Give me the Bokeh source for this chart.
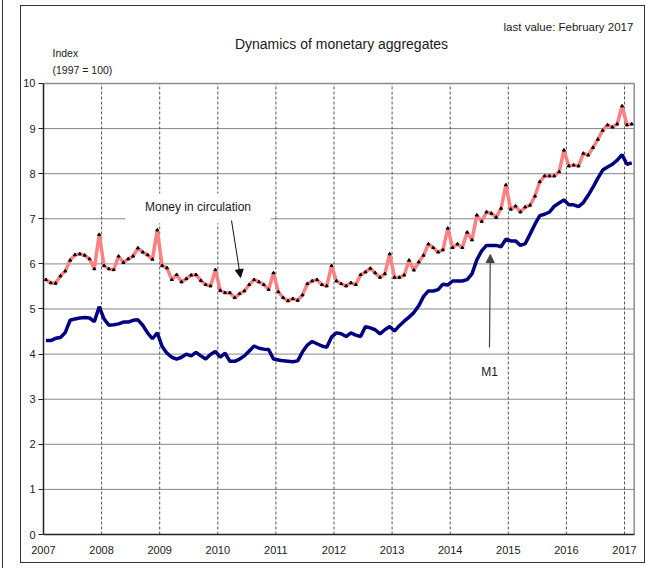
from bokeh.plotting import figure
from bokeh.models import (Range1d, FixedTicker, Label, Arrow, NormalHead,
                          BoxAnnotation, InlineStyleSheet)
from bokeh.embed import file_html
from bokeh.resources import INLINE

# ---------------- data (monthly, Jan 2007 - Feb 2017) ----------------
start_year = 2007
money_in_circulation = [
    5.65, 5.58, 5.57, 5.73, 5.84, 6.08, 6.20, 6.22, 6.19, 6.11, 5.89, 6.65,
    5.96, 5.89, 5.87, 6.17, 6.03, 6.11, 6.17, 6.35, 6.26, 6.20, 6.10, 6.75,
    5.96, 5.91, 5.65, 5.76, 5.60, 5.67, 5.75, 5.76, 5.63, 5.54, 5.51, 5.87,
    5.41, 5.36, 5.36, 5.25, 5.34, 5.40, 5.54, 5.65, 5.60, 5.54, 5.43, 5.80,
    5.38, 5.25, 5.18, 5.23, 5.19, 5.31, 5.56, 5.62, 5.65, 5.54, 5.51, 5.96,
    5.62, 5.56, 5.51, 5.58, 5.54, 5.76, 5.82, 5.90, 5.80, 5.70, 5.78, 6.22,
    5.70, 5.70, 5.75, 6.08, 5.86, 6.04, 6.19, 6.44, 6.36, 6.26, 6.31, 6.79,
    6.36, 6.44, 6.36, 6.70, 6.53, 7.08, 6.94, 7.15, 7.12, 7.03, 7.23, 7.75,
    7.21, 7.28, 7.15, 7.26, 7.30, 7.50, 7.82, 7.95, 7.95, 7.95, 8.04, 8.52,
    8.17, 8.19, 8.17, 8.45, 8.41, 8.58, 8.76, 8.96, 9.08, 9.03, 9.10, 9.50,
    9.08, 9.10,
]
m1 = [
    4.30, 4.30, 4.35, 4.37, 4.48, 4.75, 4.78, 4.80, 4.81, 4.80, 4.72, 5.05,
    4.78, 4.64, 4.65, 4.67, 4.71, 4.71, 4.75, 4.76, 4.64, 4.47, 4.34, 4.47,
    4.17, 4.02, 3.93, 3.89, 3.93, 4.00, 3.96, 4.04, 3.96, 3.89, 3.99, 4.06,
    3.93, 4.02, 3.84, 3.84, 3.89, 3.96, 4.07, 4.18, 4.13, 4.11, 4.10, 3.89,
    3.87, 3.85, 3.84, 3.83, 3.85, 4.05, 4.20, 4.28, 4.23, 4.18, 4.15, 4.38,
    4.47, 4.45, 4.39, 4.47, 4.42, 4.39, 4.61, 4.58, 4.54, 4.45, 4.54, 4.61,
    4.51, 4.63, 4.73, 4.82, 4.92, 5.07, 5.28, 5.40, 5.40, 5.43, 5.55, 5.53,
    5.62, 5.62, 5.62, 5.65, 5.78, 6.09, 6.29, 6.41, 6.41, 6.41, 6.38, 6.55,
    6.51, 6.51, 6.41, 6.45, 6.66, 6.88, 7.07, 7.10, 7.15, 7.28, 7.35, 7.42,
    7.31, 7.31, 7.27, 7.36, 7.52, 7.70, 7.90, 8.08, 8.15, 8.21, 8.30, 8.42,
    8.21, 8.24,
]
year_ticks = list(range(2007, 2018))
y_ticks = list(range(0, 11))

n_months = len(m1)
x = [start_year + (i + 0.5) / 12 for i in range(n_months)]
x_end = start_year + n_months / 12          # right edge of the category axis

FONT = "Liberation Sans, Arial, sans-serif"
TXT = "#1a1a1a"

p = figure(width=648, height=568, output_backend="svg", toolbar_location=None,
           x_range=Range1d(2007, 2017.413), y_range=Range1d(0, 11.84),
           min_border_left=43, min_border_right=0, min_border_top=0,
           min_border_bottom=34)
p.background_fill_color = "white"
p.border_fill_color = "white"
p.outline_line_color = None
p.xgrid.visible = False
p.ygrid.visible = False

# outer frame of the chart (page decoration)
p.stylesheets = [InlineStyleSheet(css="""
:host::before { content: ""; position: absolute; left: 2px; top: 0px;
  width: 0px; height: 568px; border-left: 1.5px solid #333;
  pointer-events: none; z-index: 10; }
:host::after { content: ""; position: absolute; left: 20px; top: 5px;
  width: 625px; height: 558px; border: 1.5px solid #333; box-sizing: border-box;
  pointer-events: none; z-index: 10; }
""")]

# axes
p.xaxis.ticker = FixedTicker(ticks=year_ticks)
p.yaxis.ticker = FixedTicker(ticks=y_ticks)
p.xaxis.bounds = (2007, x_end)
p.yaxis.bounds = (0, 10)
for ax in (p.xaxis[0], p.yaxis[0]):
    ax.axis_line_color = "#222222"
    ax.axis_line_width = 1.5
    ax.major_label_text_font = FONT
    ax.major_label_text_font_size = "11px"
    ax.major_label_text_color = TXT
    ax.minor_tick_line_color = None
    ax.major_tick_line_color = "#222222"
p.xaxis.major_tick_in = 0
p.xaxis.major_tick_out = 0
p.xaxis.major_label_standoff = 11
p.yaxis.major_tick_in = 0
p.yaxis.major_tick_out = 5
p.yaxis.major_label_standoff = 3

# grid lines (dotted horizontals, dashed verticals) and plot border
gy = y_ticks[1:-1]
gx = year_ticks[1:]
p.segment(x0=[start_year] * len(gy), y0=gy, x1=[x_end] * len(gy), y1=gy,
          line_color="#111111", line_dash="1 1", line_width=1, level="underlay")
p.segment(x0=gx, y0=[0] * len(gx), x1=gx, y1=[10] * len(gx),
          line_color="#555555", line_dash="3 2", line_width=1, level="underlay")
p.segment(x0=[start_year, x_end], y0=[10, 0], x1=[x_end, x_end], y1=[10, 10],
          line_color="#8c8c8c", line_width=1.5, level="underlay")

# white box behind the "Money in circulation" label
p.add_layout(BoxAnnotation(left=2008.41, right=2010.91, bottom=6.90, top=7.56,
                           fill_color="white", fill_alpha=1.0,
                           line_color=None, level="underlay"))

# series
p.line(x, money_in_circulation, line_color="#FF8080", line_width=3.5)
p.scatter(x, money_in_circulation, marker="triangle", size=3,
          fill_color="black", line_color="black")
p.line(x, m1, line_color="#000080", line_width=3.5)

# texts
def lab(xv, yv, text, size, align):
    p.add_layout(Label(x=xv, y=yv, text=text, text_font=FONT,
                       text_font_size=size, text_color=TXT,
                       text_align=align, text_baseline="middle"))

lab(2012.129, 10.865, "Dynamics of monetary aggregates", "14px", "center")
lab(2017.207, 11.242, "last value:  February 2017", "11.5px", "right")
lab(2007.155, 10.687, "Index", "10.5px", "left")
lab(2007.155, 10.310, "(1997 = 100)", "10.5px", "left")
lab(2009.659, 7.251, "Money in circulation", "12px", "center")
lab(2014.676, 3.592, "M1", "12px", "center")

# arrows
p.add_layout(Arrow(end=NormalHead(size=8, fill_color="#111111", line_color="#111111"),
                   x_start=2010.236, y_start=6.962, x_end=2010.391, y_end=5.698,
                   line_color="#111111", line_width=1))
p.add_layout(Arrow(end=NormalHead(size=8, fill_color="#444444", line_color="#444444"),
                   x_start=2014.676, y_start=4.146, x_end=2014.69, y_end=6.208,
                   line_color="#444444", line_width=1.2))

open("out.html", "w").write(file_html(p, INLINE))
